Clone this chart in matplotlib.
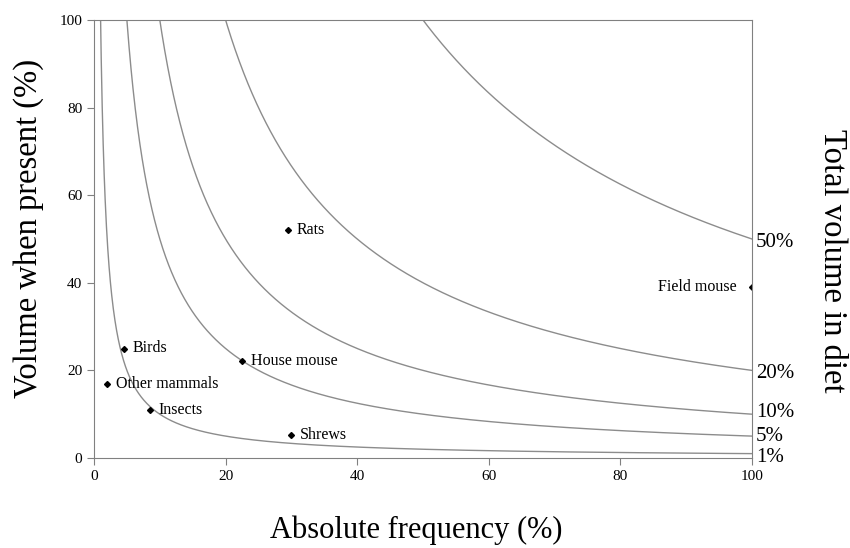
import numpy as np
import matplotlib.pyplot as plt

plt.rcParams['font.family'] = ['Liberation Serif', 'DejaVu Serif']

# prey items: absolute frequency (%), volume when present (%)
prey = ['Rats', 'Field mouse', 'Birds', 'House mouse', 'Other mammals', 'Insects', 'Shrews']
freq = [29.5, 100, 4.5, 22.5, 2.0, 8.5, 30.0]
vol = [52, 39, 25, 22.2, 17, 11, 5.2]

# isopleths of total volume in diet (%)
levels = [1, 5, 10, 20, 50]
level_labels = ['1%', '5%', '10%', '20%', '50%']
label_y = [0.0, 4.8, 10.3, 19.4, 49.3]

fig = plt.figure(figsize=(8.5, 5.48), dpi=100)
ax = fig.add_axes([94/850, 1-458/548, (752-94)/850, (458-20)/548])

x = np.linspace(0.5, 100, 2000)
for k in levels:
    y = k*100/x
    ax.plot(x, y, color='#8c8c8c', lw=1.0)

ax.plot(freq, vol, linestyle='none', marker='D', ms=3, color='black')

offsets = {'Field mouse': (-2.3, 0, 'right'), 'Rats': (1.3, 0, 'left')}
for name, fx, vy in zip(prey, freq, vol):
    dx, dy, ha = offsets.get(name, (1.3, 0, 'left'))
    ax.text(fx + dx, vy + dy, name, ha=ha, va='center', fontsize=11.5)

for lab, yy in zip(level_labels, label_y):
    ax.text(100.6, yy, lab, ha='left', va='center', fontsize=15, clip_on=False)

ax.set_xlim(0, 100)
ax.set_ylim(0, 100)
ax.set_xticks([0, 20, 40, 60, 80, 100])
ax.set_yticks([0, 20, 40, 60, 80, 100])
ax.tick_params(direction='out', length=5, colors='#808080', labelcolor='black', labelsize=11)
for s in ['left', 'bottom', 'right', 'top']:
    ax.spines[s].set_color('#808080')

fig.text(416/850, 1-530/548, 'Absolute frequency (%)', fontsize=22, ha='center', va='center')
fig.text(29/850, 1-228/548, 'Volume when present (%)', rotation=90, fontsize=23.5,
         ha='center', va='center')
fig.text(832/850, 1-261/548, 'Total volume in diet', rotation=-90, fontsize=23.5,
         ha='center', va='center')

fig.savefig('out.png', dpi=100)
